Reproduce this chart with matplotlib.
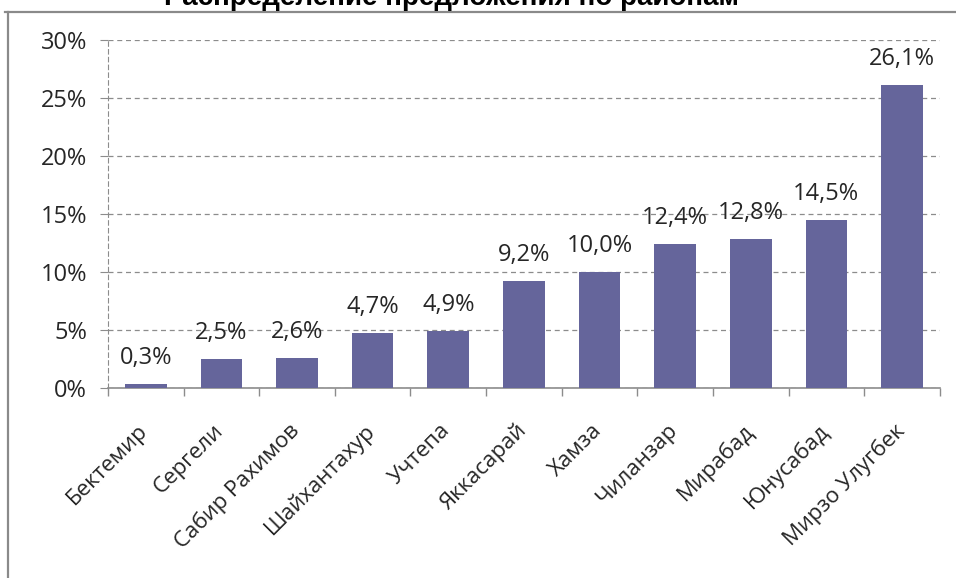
import matplotlib.pyplot as plt
from matplotlib.lines import Line2D
from matplotlib.ticker import FixedLocator, PercentFormatter, NullFormatter

districts = ["Бектемир", "Сергели", "Сабир Рахимов", "Шайхантахур", "Учтепа",
             "Яккасарай", "Хамза", "Чиланзар", "Мирабад", "Юнусабад", "Мирзо Улугбек"]
shares = [0.3, 2.5, 2.6, 4.7, 4.9, 9.2, 10.0, 12.4, 12.8, 14.5, 26.1]
y_ticks = [0, 5, 10, 15, 20, 25, 30]

plt.rcParams["font.family"] = ["Open Sans", "DejaVu Sans"]
text_col = "#262626"
grid_col = "#8c8c8c"

fig = plt.figure(figsize=(9.56, 5.78), dpi=100)
ax = fig.add_axes([0.113, 0.329, 0.870, 0.602])

x = list(range(len(districts)))
ax.bar(x, shares, width=0.55, color="#65659b", zorder=3)

# value labels above each bar, decimal comma
for xi, v in zip(x, shares):
    ax.annotate(f"{v:.1f}%".replace(".", ","), (xi, v), xytext=(0, 10),
                textcoords="offset points", ha="center", va="bottom",
                fontsize=17, color=text_col)

# rotated district names under the axis
for xi, name in zip(x, districts):
    ax.annotate(name, (xi, 0), xycoords=("data", "axes fraction"),
                xytext=(-6, -23), textcoords="offset points",
                rotation=45, rotation_mode="anchor", ha="right", va="top",
                fontsize=16, color=text_col, annotation_clip=False)

ax.set_xlim(-0.5, len(districts) - 0.5)
ax.set_ylim(0, 30)
ax.set_yticks(y_ticks)
ax.yaxis.set_major_formatter(PercentFormatter(decimals=0))
ax.grid(axis="y", color=grid_col, linestyle=(0, (4, 3)), linewidth=0.9, zorder=0)

ax.set_xticks([])
ax.xaxis.set_minor_locator(FixedLocator([i - 0.5 for i in range(len(districts) + 1)]))
ax.xaxis.set_minor_formatter(NullFormatter())
ax.tick_params(axis="x", which="minor", length=6, color=grid_col, width=1)
ax.tick_params(axis="y", length=6, color=grid_col, labelsize=17,
               labelcolor=text_col, pad=9)

for s in ("top", "right"):
    ax.spines[s].set_visible(False)
ax.spines["left"].set_color(grid_col)
ax.spines["left"].set_linestyle((0, (4, 3)))
ax.spines["bottom"].set_color(grid_col)
ax.spines["bottom"].set_linewidth(1.2)

# outer chart frame (left and top edges)
frame = dict(color="#8a8a8a", linewidth=1.6, transform=fig.transFigure)
fig.add_artist(Line2D([0.0085, 0.0085], [0.0, 0.979], **frame))
fig.add_artist(Line2D([0.005, 1.0], [0.979, 0.979], **frame))

fig.text(0.472, 1 - 5 / 578, "Распределение предложения по районам",
         ha="center", va="baseline", fontsize=20, fontweight="bold",
         family=["Liberation Sans", "DejaVu Sans"], color="black")

fig.savefig("out.png", dpi=100)
